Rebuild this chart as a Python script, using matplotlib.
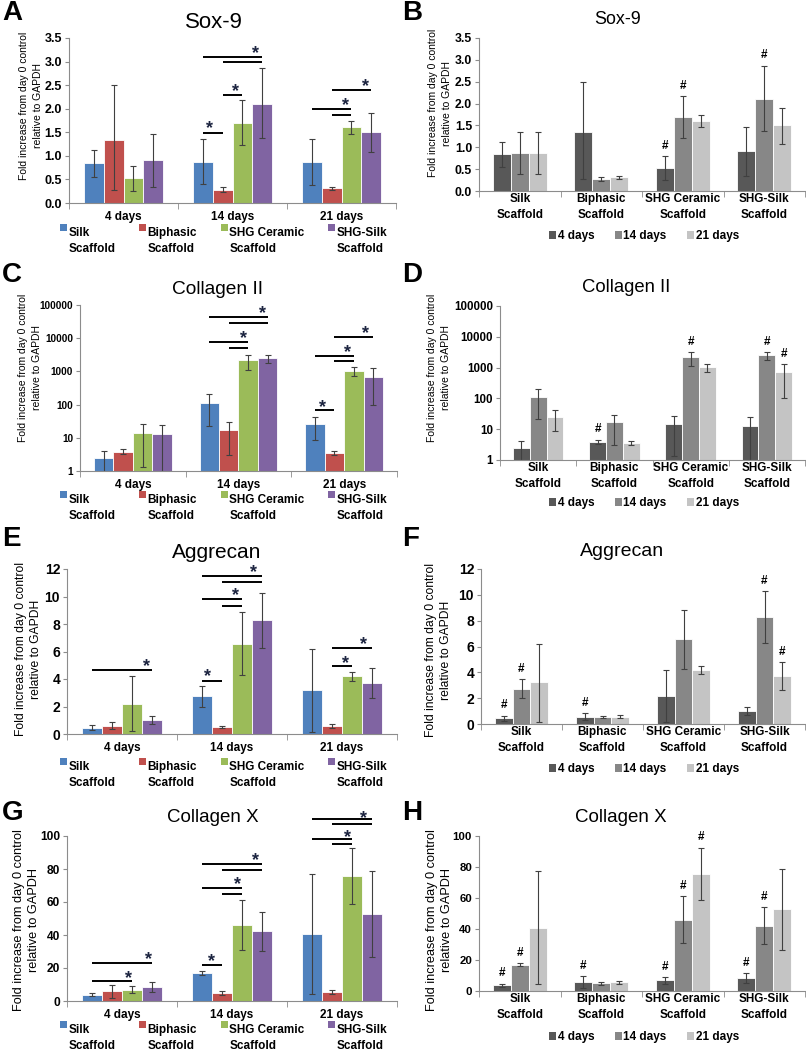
import numpy as np
import matplotlib
matplotlib.use("Agg")
import matplotlib.pyplot as plt
from matplotlib.legend_handler import HandlerPatch
from matplotlib.patches import Patch, Rectangle
from matplotlib.ticker import NullLocator

W, H = 806, 1050

days = ["4 days", "14 days", "21 days"]
scaffolds = ["Silk\nScaffold", "Biphasic\nScaffold",
             "SHG Ceramic\nScaffold", "SHG-Silk\nScaffold"]
scaffold_colors = ["#4f81bd", "#c0504d", "#9bbb59", "#8064a2"]
day_colors = ["#585858", "#878787", "#c4c4c4"]
ylabel = "Fold increase from day 0 control\nrelative to GAPDH"

# one row per scaffold, one column per day (4, 14, 21 days)
sox9_mean = [[0.84, 0.88, 0.87], [1.34, 0.28, 0.31], [0.52, 1.70, 1.61], [0.92, 2.11, 1.50]]
sox9_low = [[0.55, 0.40, 0.39], [0.28, 0.24, 0.27], [0.26, 1.22, 1.47], [0.35, 1.37, 1.08]]
sox9_high = [[1.13, 1.36, 1.36], [2.50, 0.33, 0.35], [0.79, 2.18, 1.74], [1.47, 2.87, 1.91]]

col2_mean = [[2.5, 115, 25.6], [3.8, 17, 3.5], [14.4, 2240, 1020], [13, 2570, 700]]
col2_low = [[0.9, 22, 8.7], [3.3, 3.0, 3.0], [1.3, 1120, 720], [0.9, 1820, 100]]
col2_high = [[4.0, 206, 43], [4.6, 30, 4.0], [26, 3170, 1320], [24, 3170, 1300]]

agg_mean = [[0.46, 2.74, 3.22], [0.58, 0.53, 0.57], [2.20, 6.56, 4.19], [1.00, 8.28, 3.70]]
agg_low = [[0.27, 1.99, 0.17], [0.33, 0.46, 0.44], [0.19, 4.26, 3.87], [0.73, 6.27, 2.61]]
agg_high = [[0.65, 3.46, 6.20], [0.84, 0.60, 0.70], [4.20, 8.84, 4.48], [1.28, 10.27, 4.79]]

colx_mean = [[3.9, 17.0, 40.8], [5.9, 4.9, 5.5], [6.9, 45.9, 75.6], [8.3, 42.2, 52.9]]
colx_low = [[2.8, 16.0, 4.2], [1.8, 3.8, 4.4], [4.7, 30.7, 58.8], [5.3, 30.1, 26.5]]
colx_high = [[4.8, 17.9, 77.2], [9.6, 6.0, 6.5], [8.9, 61.0, 92.5], [11.3, 53.9, 79.0]]

sox9_ticks = [0.0, 0.5, 1.0, 1.5, 2.0, 2.5, 3.0, 3.5]
col2_ticks = [1, 10, 100, 1000, 10000, 100000]
agg_ticks = [0, 2, 4, 6, 8, 10, 12]
colx_ticks = [0, 20, 40, 60, 80, 100]

# significance brackets: (day, scaffold from, scaffold to, height)
sox9_brackets = [(1, 0, 1, 1.49), (1, 1, 2, 2.30), (1, 0, 3, 3.10), (1, 1, 3, 2.99),
                 (2, 0, 2, 1.99), (2, 1, 2, 1.86), (2, 1, 3, 2.40)]
sox9_stars = [(0.79, 1.70), (1.03, 2.49), (1.21, 3.29), (2.04, 2.19), (2.22, 2.58)]
col2_brackets = [(1, 0, 3, 42500), (1, 1, 3, 28000), (1, 0, 2, 7820), (1, 1, 2, 4920),
                 (2, 0, 1, 68), (2, 0, 2, 2890), (2, 1, 2, 2090), (2, 1, 3, 10570)]
col2_stars = [(1.23, 79500), (1.05, 14600), (1.795, 121), (2.03, 5520), (2.205, 19800)]
agg_brackets = [(0, 0, 3, 4.62), (1, 0, 1, 3.87), (1, 0, 2, 9.81), (1, 1, 2, 9.32),
                (1, 0, 3, 11.50), (1, 1, 3, 11.07), (2, 1, 2, 4.92), (2, 1, 3, 6.25)]
agg_stars = [(0.22, 5.28), (0.78, 4.55), (1.03, 10.48), (1.20, 12.13), (2.03, 5.52), (2.20, 6.90)]
colx_brackets = [(0, 0, 2, 11.9), (0, 0, 3, 22.8), (1, 0, 1, 22.0), (1, 0, 2, 68.7),
                 (1, 1, 2, 64.8), (1, 0, 3, 83.0), (1, 1, 3, 79.4), (2, 0, 2, 98.2),
                 (2, 1, 2, 94.9), (2, 0, 3, 110.1), (2, 1, 3, 107.1)]
colx_stars = [(0.06, 17.2), (0.24, 28.3), (0.81, 27.3), (1.05, 73.9), (1.21, 88.5),
              (2.05, 102.2), (2.20, 114.1)]

# "#" marks over the right-hand panels: (scaffold, day)
sox9_hashes = [(2, 0), (2, 1), (3, 1)]
col2_hashes = [(1, 0), (2, 1), (3, 1), (3, 2)]
agg_hashes = [(0, 0), (0, 1), (1, 0), (3, 1), (3, 2)]
colx_hashes = [(0, 0), (0, 1), (1, 0), (2, 0), (2, 1), (2, 2), (3, 0), (3, 1)]

GRAY = "#8c8c8c"
LINESP = 1.4

plt.rcParams["font.family"] = "Liberation Sans"
plt.rcParams["font.weight"] = "bold"

fig = plt.figure(figsize=(W / 100, H / 100), dpi=100)


def add_axes(box):
    l, t, r, b = box
    return fig.add_axes([l / W, 1 - b / H, (r - l) / W, (b - t) / H])


def first_line_square(legend, orig_handle, xdescent, ydescent, width, height, fontsize):
    """Legend square next to the first line of a two-line label."""
    return Rectangle((-xdescent, -ydescent + LINESP * 0.82 * fontsize), width, height)


def style_axes(ax, ticks, log, ncat, ysize, ylab):
    for s in ("top", "right"):
        ax.spines[s].set_visible(False)
    for s in ("left", "bottom"):
        ax.spines[s].set_color(GRAY)
        ax.spines[s].set_linewidth(0.8)
    if log:
        ax.set_yscale("log")
        ax.set_yticks(ticks, [str(t) for t in ticks])
        ax.yaxis.set_minor_locator(NullLocator())
    elif isinstance(ticks[1], float):
        ax.set_yticks(ticks, [f"{t:.1f}" for t in ticks])
    else:
        ax.set_yticks(ticks, [str(t) for t in ticks])
    ax.set_ylim(ticks[0], ticks[-1])
    ax.set_xlim(-0.5, ncat - 0.5)
    ax.set_xticks(np.arange(ncat + 1) - 0.5, minor=True)
    ax.tick_params(axis="y", length=3, color=GRAY, labelsize=ysize, pad=2)
    ax.tick_params(axis="x", which="major", length=0, labelsize=8.5)
    ax.tick_params(axis="x", which="minor", length=4, color=GRAY)
    (lx, ly), lsize, lsp = ylab
    ax.set_ylabel(ylabel, fontsize=lsize, linespacing=lsp)
    ax.yaxis.set_label_coords(lx / W, 1 - ly / H, transform=fig.transFigure)


def by_day_panel(box, g, ysize, ylab):
    ax = add_axes(box)
    x = np.arange(len(days))
    w = 0.183
    for i in range(len(scaffolds)):
        m = np.array(g["mean"][i])
        lo = np.array(g["low"][i])
        hi = np.array(g["high"][i])
        pos = x + (i - 1.5) * w
        ax.bar(pos, m, w, color=scaffold_colors[i], edgecolor="white", linewidth=0.6)
        ax.errorbar(pos, m, yerr=[m - lo, hi - m], fmt="none", ecolor="#404040",
                    elinewidth=0.8, capsize=2, capthick=0.8)
    for d, a, b, y in g["brackets"]:
        ax.plot([d + (a - 1.5) * w, d + (b - 1.5) * w], [y, y], color="black",
                lw=1.4, clip_on=False, solid_capstyle="butt")
    for sx, sy in g["stars"]:
        ax.annotate("*", (sx, sy), xytext=(0, -4), textcoords="offset points",
                    ha="center", va="center", fontsize=13, color="#1c2440",
                    annotation_clip=False)
    style_axes(ax, g["ticks"], g["log"], len(days), ysize, ylab)
    ax.set_xticks(x, days)
    ax.tick_params(axis="x", which="major", pad=6)
    return ax


def by_scaffold_panel(box, g, ysize, ylab):
    ax = add_axes(box)
    x = np.arange(len(scaffolds))
    w = 0.22
    mean = np.array(g["mean"])
    low = np.array(g["low"])
    high = np.array(g["high"])
    for j in range(len(days)):
        m = mean[:, j]
        pos = x + (j - 1) * w
        ax.bar(pos, m, w, color=day_colors[j], edgecolor="white", linewidth=0.6)
        ax.errorbar(pos, m, yerr=[m - low[:, j], high[:, j] - m], fmt="none",
                    ecolor="#404040", elinewidth=0.8, capsize=2, capthick=0.8)
    for i, j in g["hashes"]:
        ax.annotate("#", (x[i] + (j - 1) * w, high[i, j]), xytext=(0, 3),
                    textcoords="offset points", ha="center", va="bottom",
                    fontsize=8.5, annotation_clip=False)
    style_axes(ax, g["ticks"], g["log"], len(scaffolds), ysize, ylab)
    ax.set_xticks(x, scaffolds, linespacing=LINESP)
    ax.tick_params(axis="x", which="major", pad=1.5)
    return ax


genes = [
    dict(title="Sox-9", mean=sox9_mean, low=sox9_low, high=sox9_high, ticks=sox9_ticks,
         log=False, brackets=sox9_brackets, stars=sox9_stars, hashes=sox9_hashes),
    dict(title="Collagen II", mean=col2_mean, low=col2_low, high=col2_high, ticks=col2_ticks,
         log=True, brackets=col2_brackets, stars=col2_stars, hashes=col2_hashes),
    dict(title="Aggrecan", mean=agg_mean, low=agg_low, high=agg_high, ticks=agg_ticks,
         log=False, brackets=agg_brackets, stars=agg_stars, hashes=agg_hashes),
    dict(title="Collagen X", mean=colx_mean, low=colx_low, high=colx_high, ticks=colx_ticks,
         log=False, brackets=colx_brackets, stars=colx_stars, hashes=colx_hashes),
]

# layout in pixels (left, top, right, bottom)
left_boxes = [(69, 38, 396, 203), (80, 305, 397, 471), (67, 569, 397, 734), (67, 836, 397, 1001)]
right_boxes = [(479, 38, 805, 191), (500, 306, 805, 460), (481, 569, 805, 724), (479, 836, 805, 991)]
left_ysize = [9, 7.2, 10, 8.6]
right_ysize = [8.8, 8.3, 10, 8.2]
# y label: (right edge, centre) in pixels, font size, line spacing
left_ylab = [((43, 106), 7.5, 1.56), ((42, 368), 7.5, 1.56),
             ((42, 649), 8.7, 1.34), ((40, 920), 9.2, 1.3)]
right_ylab = [((452, 103), 7.5, 1.56), ((451, 368), 7.5, 1.56),
              ((452, 650), 8.7, 1.34), ((453, 920), 9.2, 1.3)]
left_titles = [(214, 22, 16), (218, 290, 13.8), (217, 552, 15), (213, 818, 13.5)]
right_titles = [(618, 20, 12.9), (626, 288, 13.3), (622, 552, 14), (621, 818, 13.5)]
letter_rows = [20, 282, 546, 820]
left_legend_top = [227, 494, 761, 1024]
right_legend_y = [236, 503, 769, 1037]

for r, g in enumerate(genes):
    by_day_panel(left_boxes[r], g, left_ysize[r], left_ylab[r])
    by_scaffold_panel(right_boxes[r], g, right_ysize[r], right_ylab[r])

    for (tx, ty, ts) in (left_titles[r], right_titles[r]):
        fig.text(tx / W, 1 - ty / H, g["title"], ha="center", va="center",
                 fontsize=ts, fontweight="normal")
    fig.text(2 / W, 1 - letter_rows[r] / H, "ABCDEFGH"[2 * r], fontsize=20,
             va="baseline")
    fig.text(402 / W, 1 - letter_rows[r] / H, "ABCDEFGH"[2 * r + 1], fontsize=20,
             va="baseline")

    handles = [Patch(facecolor=c, edgecolor="none") for c in scaffold_colors]
    leg = fig.legend(handles, scaffolds, loc="upper left",
                     bbox_to_anchor=(60 / W, 1 - left_legend_top[r] / H), ncol=4,
                     frameon=False, fontsize=8.5, handlelength=0.6, handleheight=0.6,
                     handletextpad=0.12, columnspacing=2.0, borderpad=0,
                     borderaxespad=0,
                     handler_map={Patch: HandlerPatch(patch_func=first_line_square)})
    for t in leg.get_texts():
        t.set_linespacing(LINESP)

    handles = [Patch(facecolor=c, edgecolor="none") for c in day_colors]
    fig.legend(handles, days, loc="center",
               bbox_to_anchor=(644 / W, 1 - right_legend_y[r] / H), ncol=3,
               frameon=False, fontsize=8.5, handlelength=0.6, handleheight=0.6,
               handletextpad=0.15, columnspacing=1.7, borderpad=0, borderaxespad=0)

fig.savefig("out.png", dpi=100)
